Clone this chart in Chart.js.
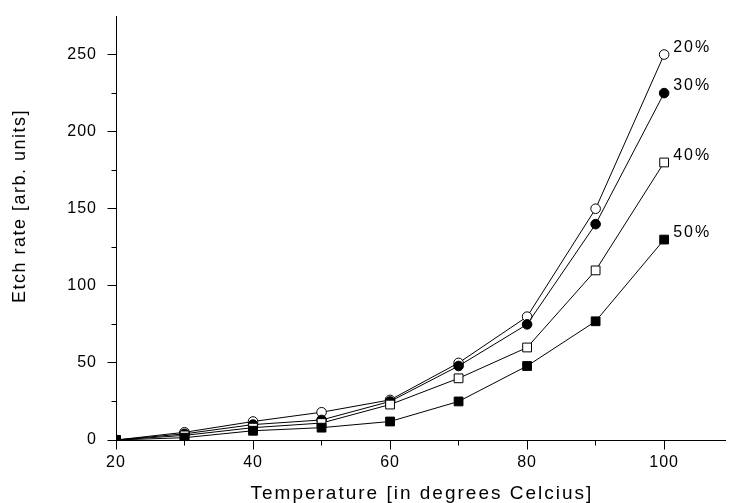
<!DOCTYPE html>
<html><head><meta charset="utf-8">
<script src="https://cdn.jsdelivr.net/npm/chart.js@4/dist/chart.umd.min.js"></script>
<style>html,body{margin:0;padding:0;background:#fff}canvas{display:block}</style>
</head><body>
<canvas id="c" width="733" height="503"></canvas>
<script>
// ---- data ----
const temperatures = [20, 30, 40, 50, 60, 70, 80, 90, 100];
const rate20 = [0, 5, 12, 18, 26, 50, 80, 150, 250];
const rate30 = [0, 4, 10, 13, 25, 48, 75, 140, 225];
const rate40 = [0, 3, 8, 11, 23, 40, 60, 110, 180];
const rate50 = [0, 1.5, 6, 8, 12, 25, 48, 77, 130];
const seriesLabels = ['20%', '30%', '40%', '50%'];
const xMajorTicks = [20, 40, 60, 80, 100];
const xMinorTicks = [30, 50, 70, 90];
const yMajorTicks = [0, 50, 100, 150, 200, 250];
const yMinorTicks = [25, 75, 125, 175, 225];
const xTitle = 'Temperature [in degrees Celcius]';
const yTitle = 'Etch rate [arb. units]';

const FONT = '"Liberation Sans", Arial, Helvetica, sans-serif';

function pts(vals) { return temperatures.map((t, i) => ({x: t, y: vals[i]})); }

function ds(label, vals, style, fill, radius, order) {
  return {
    label, data: pts(vals),
    borderColor: '#000', borderWidth: 1, tension: 0,
    pointStyle: style, pointRadius: radius, pointHoverRadius: radius,
    pointBackgroundColor: fill, pointBorderColor: '#000', pointBorderWidth: 1,
    order
  };
}

const deco = {
  id: 'deco',
  beforeLayout(chart) { chart.ctx.letterSpacing = '1px'; },
  beforeDraw(chart) { chart.ctx.letterSpacing = '1px'; },
  afterDraw(chart) {
    const ctx = chart.ctx, xs = chart.scales.x, ys = chart.scales.y;
    const al = p => Math.round(p - 0.5) + 0.5;
    const axY = al(xs.top), axX = al(ys.right);
    ctx.save();
    ctx.strokeStyle = '#000'; ctx.lineWidth = 1;
    ctx.beginPath();
    xMajorTicks.forEach(v => { const p = al(xs.getPixelForValue(v)); ctx.moveTo(p, axY); ctx.lineTo(p, axY + 9); });
    xMinorTicks.forEach(v => { const p = al(xs.getPixelForValue(v)); ctx.moveTo(p, axY); ctx.lineTo(p, axY + 5); });
    yMajorTicks.forEach(v => { const p = al(ys.getPixelForValue(v)); ctx.moveTo(axX, p); ctx.lineTo(axX - 9, p); });
    yMinorTicks.forEach(v => { const p = al(ys.getPixelForValue(v)); ctx.moveTo(axX, p); ctx.lineTo(axX - 5, p); });
    ctx.stroke();

    ctx.fillStyle = '#000';
    // series end labels
    ctx.font = '16px ' + FONT;
    ctx.letterSpacing = '2px';
    ctx.textAlign = 'left'; ctx.textBaseline = 'middle';
    chart.data.datasets.forEach((d, i) => {
      const meta = chart.getDatasetMeta(i);
      const el = meta.data[meta.data.length - 1];
      ctx.fillText(d.label, el.x + 9, el.y - 7);
    });

    // x title
    ctx.font = '19px ' + FONT;
    ctx.letterSpacing = '2px';
    ctx.textAlign = 'center'; ctx.textBaseline = 'alphabetic';
    ctx.fillText(xTitle, (chart.chartArea.left + chart.chartArea.right) / 2 + 1, 499);

    // y title
    ctx.font = '18px ' + FONT;
    ctx.letterSpacing = '1.5px';
    ctx.translate(25, 303);
    ctx.rotate(-Math.PI / 2);
    ctx.textAlign = 'left';
    ctx.fillText(yTitle, 0, 0);
    ctx.restore();
  }
};

new Chart(document.getElementById('c'), {
  type: 'line',
  data: {
    datasets: [
      ds(seriesLabels[0], rate20, 'circle', '#fff', 4.8, 4),
      ds(seriesLabels[1], rate30, 'circle', '#000', 4.8, 3),
      ds(seriesLabels[2], rate40, 'rect', '#fff', 6.2, 2),
      ds(seriesLabels[3], rate50, 'rect', '#000', 6.2, 1)
    ]
  },
  options: {
    responsive: false, animation: false, devicePixelRatio: 1,
    layout: { padding: { top: 16, right: 0, left: 0, bottom: 0 } },
    plugins: { legend: { display: false }, tooltip: { enabled: false } },
    events: [],
    scales: {
      x: {
        type: 'linear', min: 20, max: 109,
        afterBuildTicks: s => { s.ticks = xMajorTicks.map(v => ({value: v})); },
        afterFit: s => { s.height = 63; s.paddingLeft = 0; s.paddingRight = 0; },
        grid: { display: false, drawTicks: false },
        border: { display: true, color: '#000', width: 1 },
        ticks: { color: '#000', font: { family: FONT, size: 16 }, padding: 13, maxRotation: 0 },
        title: { display: false }
      },
      y: {
        type: 'linear', min: 0, max: 275,
        afterBuildTicks: s => { s.ticks = yMajorTicks.map(v => ({value: v})); },
        afterFit: s => { s.width = 116; s.paddingTop = 0; s.paddingBottom = 0; },
        grid: { display: false, drawTicks: false },
        border: { display: true, color: '#000', width: 1 },
        ticks: { color: '#000', font: { family: FONT, size: 16 }, padding: 19 },
        title: { display: false }
      }
    }
  },
  plugins: [deco]
});
</script>
</body></html>
